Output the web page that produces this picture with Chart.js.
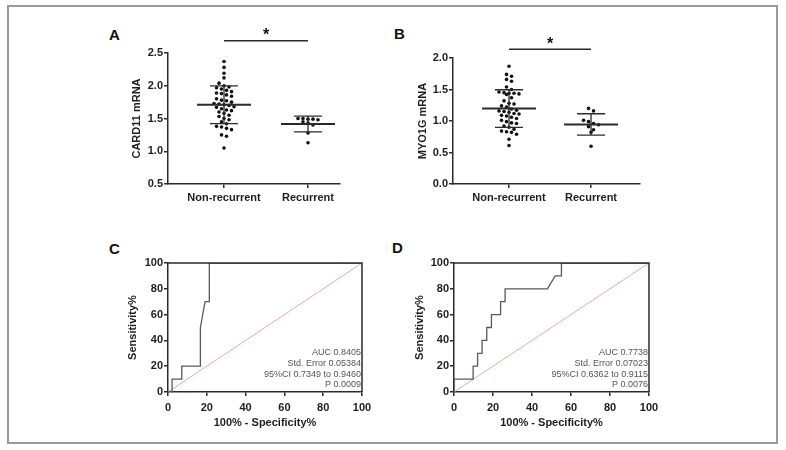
<!DOCTYPE html>
<html>
<head>
<meta charset="utf-8">
<script src="https://cdn.jsdelivr.net/npm/chart.js@4.4.1/dist/chart.umd.min.js"></script>
<style>
  body { margin: 0; background: #fff; width: 786px; height: 450px; position: relative; overflow: hidden; font-family: "Liberation Sans", Arial, sans-serif; }
  .frame { position: absolute; left: 7px; top: 5px; width: 771px; height: 439px; border: 2px solid #9a9a9a; box-sizing: border-box; }
  .panel { position: absolute; }
  .tag { position: absolute; font-weight: bold; font-size: 15px; color: #111; line-height: 1; }
</style>
</head>
<body>
<div class="frame"></div>
<div class="tag" style="left:109px;top:27px">A</div>
<div class="tag" style="left:394px;top:26px">B</div>
<div class="tag" style="left:109px;top:241px">C</div>
<div class="tag" style="left:392px;top:240px">D</div>

<div class="panel" style="left:100px;top:20px;width:260px;height:200px"><canvas id="chartA" width="260" height="200"></canvas></div>
<div class="panel" style="left:380px;top:20px;width:270px;height:200px"><canvas id="chartB" width="270" height="200"></canvas></div>
<div class="panel" style="left:100px;top:240px;width:280px;height:200px"><canvas id="chartC" width="280" height="200"></canvas></div>
<div class="panel" style="left:380px;top:240px;width:290px;height:200px"><canvas id="chartD" width="290" height="200"></canvas></div>

<script>
// groups on the dot plots
const groups = ['Non-recurrent', 'Recurrent'];

// CARD11 mRNA
const card11NonRec = [2.37, 2.28, 2.19, 2.12, 2.04, 2.0, 1.98, 1.97, 1.95, 1.93, 1.91, 1.89, 1.88, 1.86, 1.84,
  1.80, 1.78, 1.77, 1.75, 1.73, 1.72, 1.71, 1.70, 1.68, 1.67, 1.65, 1.63, 1.62, 1.60, 1.58,
  1.55, 1.53, 1.50, 1.48, 1.45, 1.42, 1.38, 1.37, 1.35, 1.33, 1.25, 1.23, 1.05];
const card11Rec = [1.50, 1.50, 1.49, 1.49, 1.48, 1.45, 1.43, 1.40, 1.28, 1.13];

// MYO1G mRNA
const myo1gNonRec = [1.87, 1.74, 1.71, 1.66, 1.63, 1.54, 1.50, 1.46, 1.45, 1.44, 1.44, 1.43, 1.42, 1.37, 1.32,
  1.28, 1.27, 1.24, 1.22, 1.19, 1.17, 1.16, 1.15, 1.14, 1.12, 1.11, 1.09, 1.08, 1.06, 1.04,
  1.01, 0.99, 0.97, 0.96, 0.92, 0.90, 0.87, 0.84, 0.83, 0.82, 0.79, 0.71, 0.61];
const myo1gRec = [1.20, 1.16, 1.01, 0.99, 0.96, 0.94, 0.91, 0.86, 0.82, 0.60];

// ROC curves (100% - specificity, sensitivity)
const rocCardX = [0, 2.1, 2.1, 7.1, 7.1, 16.7, 16.7, 19.1, 21.3, 21.3, 100];
const rocCardY = [0, 0, 10, 10, 20, 20, 50, 70, 70, 100, 100];
const rocMyoX = [0, 0, 9.8, 9.8, 12.1, 12.1, 14.4, 14.4, 16.8, 16.8, 19.2, 19.2, 23.9, 23.9, 26.2, 26.2, 47.9, 51.9, 55.1, 55.1, 100];
const rocMyoY = [0, 10, 10, 20, 20, 30, 30, 40, 40, 50, 50, 60, 60, 70, 70, 80, 80, 90, 90, 100, 100];

const statsCard = ['AUC 0.8405', 'Std. Error 0.05384', '95%CI 0.7349 to 0.9460', 'P 0.0009'];
const statsMyo = ['AUC 0.7738', 'Std. Error 0.07023', '95%CI 0.6362 to 0.9115', 'P 0.0076'];

const ink = '#2b2b2b';
Chart.defaults.font.family = '"Liberation Sans", Arial, sans-serif';
Chart.defaults.font.size = 11;
Chart.defaults.font.weight = 'bold';
Chart.defaults.color = '#1e1e1e';

function mean(a) { return a.reduce((s, v) => s + v, 0) / a.length; }
function sd(a) { const m = mean(a); return Math.sqrt(a.reduce((s, v) => s + (v - m) * (v - m), 0) / (a.length - 1)); }

function axis(extra) {
  return Object.assign({
    grid: { display: true, drawOnChartArea: false, drawTicks: true, tickLength: 4, color: ink, lineWidth: 1.5 },
    border: { display: true, color: ink, width: 1.5 },
    ticks: { padding: 1, color: '#1e1e1e' }
  }, extra);
}

// mean +/- SD bars and the significance bar with its star
const dotExtras = {
  id: 'dotExtras',
  afterDatasetsDraw(chart, args, opts) {
    const { ctx, chartArea } = chart;
    const xs = chart.scales.x, ys = chart.scales.y;
    ctx.save();
    ctx.strokeStyle = ink;
    opts.sets.forEach((vals, i) => {
      const cx = xs.getPixelForValue(i + 1);
      const m = mean(vals), s = sd(vals);
      const pm = ys.getPixelForValue(m), pu = ys.getPixelForValue(m + s), pl = ys.getPixelForValue(m - s);
      ctx.lineWidth = 2;
      ctx.beginPath(); ctx.moveTo(cx - 27, pm); ctx.lineTo(cx + 27, pm); ctx.stroke();
      ctx.lineWidth = 1.3;
      ctx.beginPath();
      ctx.moveTo(cx - 14, pu); ctx.lineTo(cx + 14, pu);
      ctx.moveTo(cx - 14, pl); ctx.lineTo(cx + 14, pl);
      ctx.moveTo(cx, pu); ctx.lineTo(cx, pl);
      ctx.stroke();
    });
    const x1 = xs.getPixelForValue(1), x2 = xs.getPixelForValue(2);
    const by = chartArea.top - opts.barGap;
    ctx.lineWidth = 1.5;
    ctx.beginPath(); ctx.moveTo(x1, by); ctx.lineTo(x2, by); ctx.stroke();
    ctx.fillStyle = '#111';
    ctx.font = 'bold 16px "Liberation Sans", Arial, sans-serif';
    ctx.textAlign = 'center';
    ctx.textBaseline = 'middle';
    ctx.fillText('*', (x1 + x2) / 2, by - 5);
    ctx.restore();
  }
};

// closed frame and the AUC summary for ROC panels
const rocExtras = {
  id: 'rocExtras',
  afterDatasetsDraw(chart, args, opts) {
    const { ctx, chartArea: a } = chart;
    ctx.save();
    ctx.strokeStyle = ink;
    ctx.lineWidth = 1.5;
    ctx.beginPath();
    ctx.moveTo(a.left, a.top); ctx.lineTo(a.right, a.top); ctx.lineTo(a.right, a.bottom);
    ctx.stroke();
    ctx.fillStyle = '#555';
    ctx.font = '9px "Liberation Sans", Arial, sans-serif';
    ctx.textAlign = 'right';
    ctx.textBaseline = 'middle';
    const n = opts.lines.length;
    opts.lines.forEach((t, i) => ctx.fillText(t, a.right - 1, a.bottom - 7 - (n - 1 - i) * 10.8));
    ctx.restore();
  }
};

// simple row-based swarm layout around each group's centre
function swarm(chart, values, idx) {
  const xs = chart.scales.x, ys = chart.scales.y;
  const cx = xs.getPixelForValue(idx + 1);
  const sorted = values.slice().sort((a, b) => b - a);
  const rows = [];
  sorted.forEach(v => {
    const py = ys.getPixelForValue(v);
    const row = rows[rows.length - 1];
    if (row && py - row.py0 < 4.5 && row.items.length < 5) row.items.push(v);
    else rows.push({ py0: py, items: [v] });
  });
  const pts = [];
  rows.forEach(r => r.items.forEach((v, i) => {
    pts.push({ x: xs.getValueForPixel(cx + (i - (r.items.length - 1) / 2) * 5), y: v });
  }));
  return pts;
}

function dotChart(id, sets, title, yMin, yMax, xMin, xMax, pad, yWidth, barGap) {
  const chart = new Chart(document.getElementById(id), {
    type: 'scatter',
    data: {
      datasets: sets.map((vals, i) => ({
        data: vals.map(v => ({ x: i + 1, y: v })),
        pointStyle: 'circle', pointRadius: 1.8, pointHoverRadius: 1.8,
        backgroundColor: '#111', borderWidth: 0
      }))
    },
    options: {
      responsive: false, animation: false, events: [],
      layout: { padding: pad },
      plugins: { legend: { display: false }, tooltip: { enabled: false }, dotExtras: { sets: sets, barGap: barGap } },
      scales: {
        x: axis({
          type: 'linear', min: xMin, max: xMax,
          afterBuildTicks: s => { s.ticks = [{ value: 1 }, { value: 2 }]; },
          afterFit: s => { s.height = 36; },
          ticks: { padding: 3, color: '#1e1e1e', callback: v => groups[v - 1] }
        }),
        y: axis({
          min: yMin, max: yMax,
          afterFit: s => { s.width = yWidth; },
          ticks: { stepSize: 0.5, padding: 1, color: '#1e1e1e', callback: v => v.toFixed(1) },
          title: { display: true, text: title, padding: 0, color: '#1e1e1e' }
        })
      }
    },
    plugins: [dotExtras]
  });
  sets.forEach((vals, i) => { chart.data.datasets[i].data = swarm(chart, vals, i); });
  chart.update('none');
  return chart;
}

function rocChart(id, xs, ys, lines, pad, yWidth) {
  return new Chart(document.getElementById(id), {
    type: 'line',
    data: {
      datasets: [
        { data: xs.map((x, i) => ({ x: x, y: ys[i] })), borderColor: '#5a5a5a', borderWidth: 1.3, pointRadius: 0, tension: 0 },
        { data: [{ x: 0, y: 0 }, { x: 100, y: 100 }], borderColor: '#e7a9b0', borderWidth: 1, pointRadius: 0 }
      ]
    },
    options: {
      responsive: false, animation: false, events: [],
      layout: { padding: pad },
      plugins: { legend: { display: false }, tooltip: { enabled: false }, rocExtras: { lines: lines } },
      scales: {
        x: axis({
          type: 'linear', min: 0, max: 100,
          afterFit: s => { s.height = 38; },
          ticks: { stepSize: 20, padding: 5, color: '#1e1e1e' },
          title: { display: true, text: '100% - Specificity%', padding: 0, color: '#1e1e1e' }
        }),
        y: axis({
          min: 0, max: 100,
          afterFit: s => { s.width = yWidth; },
          ticks: { stepSize: 20, padding: 1, color: '#1e1e1e' },
          title: { display: true, text: 'Sensitivity%', padding: 0, color: '#1e1e1e' }
        })
      }
    },
    plugins: [rocExtras]
  });
}

dotChart('chartA', [card11NonRec, card11Rec], 'CARD11 mRNA', 0.5, 2.5, 0.333, 2.381,
  { left: 30, top: 33, right: 20, bottom: 0 }, 38, 12.3);
dotChart('chartB', [myo1gNonRec, myo1gRec], 'MYO1G mRNA', 0, 2.0, 0.317, 2.597,
  { left: 36, top: 38, right: 10, bottom: 0 }, 37, 8.7);
rocChart('chartC', rocCardX, rocCardY, statsCard, { left: 26, top: 23, right: 18, bottom: 10 }, 42);
rocChart('chartD', rocMyoX, rocMyoY, statsMyo, { left: 33, top: 23, right: 21, bottom: 10 }, 41);
</script>
</body>
</html>
